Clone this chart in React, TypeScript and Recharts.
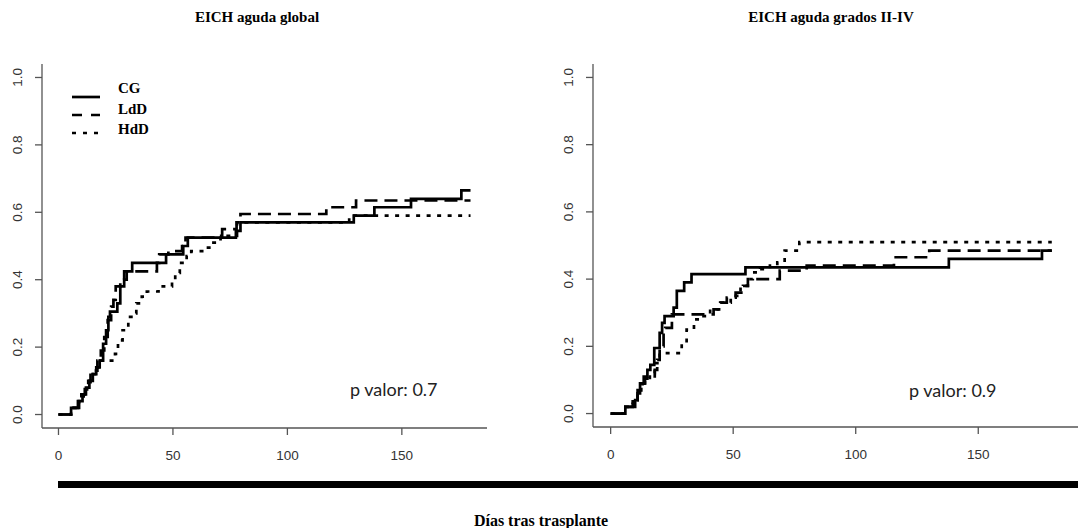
import React from "react";
import { LineChart, Line, XAxis, YAxis } from "recharts";

// ---------- Data (days after transplant, cumulative incidence) ----------
const xTicks = [0, 50, 100, 150];
const yTicks = [0, 0.2, 0.4, 0.6, 0.8, 1.0];
const seriesNames = ["CG", "LdD", "HdD"];

// Left panel: EICH aguda global
const leftCGT = [0, 5.5, 9, 10.5, 12, 13.5, 15, 16.5, 18, 19.5, 20.8, 21.8, 22.5, 25.7, 27, 28.7, 29.8, 32.2, 47, 54.5, 56.5, 77.5, 79.5, 129, 138, 154, 176, 180];
const leftCGV = [0, 0.02, 0.04, 0.06, 0.08, 0.1, 0.12, 0.14, 0.16, 0.21, 0.25, 0.29, 0.305, 0.33, 0.38, 0.4, 0.425, 0.45, 0.475, 0.5, 0.525, 0.545, 0.57, 0.59, 0.615, 0.64, 0.665, 0.665];
const leftLdDT = [0, 5.5, 8.5, 10, 11.5, 13, 14, 15.5, 17, 18.5, 20, 21.5, 23, 24, 25, 27, 28.7, 43, 44, 48, 54, 55.5, 69, 71.5, 77.8, 79.5, 117, 130, 180];
const leftLdDV = [0, 0.02, 0.04, 0.06, 0.08, 0.1, 0.125, 0.13, 0.16, 0.19, 0.23, 0.28, 0.32, 0.34, 0.38, 0.4, 0.425, 0.45, 0.475, 0.485, 0.5, 0.525, 0.53, 0.55, 0.57, 0.595, 0.615, 0.635, 0.635];
const leftHdDT = [0, 5.5, 9, 11, 12.5, 14, 16, 17.4, 24.7, 26, 28, 30.5, 32.5, 34, 36.4, 38.6, 43.7, 49.6, 51, 53, 56, 58, 63.5, 67, 70.8, 78, 127, 180];
const leftHdDV = [0, 0.02, 0.04, 0.06, 0.09, 0.12, 0.14, 0.16, 0.18, 0.22, 0.25, 0.29, 0.3, 0.33, 0.35, 0.365, 0.38, 0.4, 0.42, 0.45, 0.47, 0.485, 0.495, 0.51, 0.53, 0.57, 0.59, 0.59];

// Right panel: EICH aguda grados II-IV
const rightCGT = [0, 6, 10, 11, 12, 13.5, 15, 16.2, 17.8, 20, 21, 22, 25.7, 27, 30, 33, 55, 138, 176, 180];
const rightCGV = [0, 0.02, 0.04, 0.07, 0.09, 0.11, 0.13, 0.145, 0.195, 0.24, 0.27, 0.29, 0.315, 0.365, 0.39, 0.415, 0.435, 0.46, 0.485, 0.485];
const rightLdDT = [0, 6, 9, 11, 12, 13, 14, 18, 19, 20, 21.6, 22.3, 25, 38, 42, 44.7, 47.4, 51, 54, 56, 69, 80, 115.6, 130, 180];
const rightLdDV = [0, 0.02, 0.04, 0.06, 0.08, 0.09, 0.104, 0.13, 0.16, 0.2, 0.25, 0.255, 0.295, 0.295, 0.31, 0.33, 0.345, 0.36, 0.38, 0.4, 0.425, 0.44, 0.465, 0.485, 0.485];
const rightHdDT = [0, 6, 9, 11, 12.5, 14, 16, 18, 20, 29, 31, 34, 36.5, 40.6, 45, 49, 53, 56, 58, 61, 65, 68, 71, 77, 180];
const rightHdDV = [0, 0.02, 0.04, 0.06, 0.08, 0.1, 0.12, 0.15, 0.18, 0.21, 0.25, 0.28, 0.29, 0.31, 0.33, 0.35, 0.38, 0.4, 0.42, 0.43, 0.44, 0.45, 0.485, 0.51, 0.51];

const zip = (t: number[], v: number[]) => t.map((x, i) => ({ t: x, v: v[i] }));

const dashes = ["", "13 7", "4 6.5"];
const SW = 2.7;
const AXIS = "#555";
const TICKFONT = "'Liberation Sans', Arial, sans-serif";
const SERIF = "'Liberation Serif', 'Times New Roman', serif";

const YTick = (props: any) => {
  const { x, y, payload } = props;
  const bx = x - 11;
  return (
    <text x={bx} y={y} transform={`rotate(-90 ${bx} ${y})`} textAnchor="middle" fill="#333" fontSize={13.5} fontFamily={TICKFONT}>
      {Number(payload.value).toFixed(1)}
    </text>
  );
};

type PanelProps = {
  series: { t: number; v: number }[][];
  width: number;
  margin: { top: number; right: number; bottom: number; left: number };
  xMax: number;
};

const Panel = ({ series, width, margin, xMax }: PanelProps) => (
  <LineChart width={width} height={528} margin={margin}>
    <XAxis
      type="number"
      dataKey="t"
      domain={[-7.2, xMax]}
      ticks={xTicks}
      allowDataOverflow
      height={40}
      stroke={AXIS}
      strokeWidth={1.3}
      tickSize={7}
      tickMargin={15}
      tick={{ fill: "#333", fontSize: 13.5, fontFamily: TICKFONT }}
      tickLine={{ stroke: AXIS, strokeWidth: 1.3 }}
    />
    <YAxis
      type="number"
      dataKey="v"
      domain={[-0.04, 1.04]}
      ticks={yTicks}
      allowDataOverflow
      width={40}
      stroke={AXIS}
      strokeWidth={1.3}
      tickSize={7}
      tick={<YTick />}
      tickLine={{ stroke: AXIS, strokeWidth: 1.3 }}
    />
    {series.map((d, i) => (
      <Line
        key={seriesNames[i]}
        data={d}
        dataKey="v"
        name={seriesNames[i]}
        type="stepAfter"
        stroke="#000"
        strokeWidth={SW}
        strokeDasharray={dashes[i] || undefined}
        dot={false}
        activeDot={false}
        isAnimationActive={false}
      />
    ))}
  </LineChart>
);

export default function App() {
  const left = [zip(leftCGT, leftCGV), zip(leftLdDT, leftLdDV), zip(leftHdDT, leftHdDV)];
  const right = [zip(rightCGT, rightCGV), zip(rightLdDT, rightLdDV), zip(rightHdDT, rightHdDV)];
  const legendLineY = [97, 115, 133];
  const legendTextY = [93, 114, 134];
  return (
    <div style={{ position: "absolute", left: 0, top: 0, width: 1078, height: 528, background: "#fff", overflow: "hidden" }}>
      <div style={{ position: "absolute", left: 0, top: 0 }}>
        <Panel series={left} width={540} margin={{ top: 64, right: 53, bottom: 60, left: 2 }} xMax={187.2} />
      </div>
      <div style={{ position: "absolute", left: 540, top: 0 }}>
        <Panel series={right} width={538} margin={{ top: 64, right: 0, bottom: 61, left: 13 }} xMax={190.7} />
      </div>
      <svg width={1078} height={528} style={{ position: "absolute", left: 0, top: 0, pointerEvents: "none" }}>
        <text x={257} y={22} textAnchor="middle" fontFamily={SERIF} fontWeight="bold" fontSize={15} fill="#000">EICH aguda global</text>
        <text x={831} y={22} textAnchor="middle" fontFamily={SERIF} fontWeight="bold" fontSize={15} fill="#000">EICH aguda grados II-IV</text>
        {seriesNames.map((n, i) => (
          <g key={n}>
            <line x1={72} x2={100} y1={legendLineY[i]} y2={legendLineY[i]} stroke="#000" strokeWidth={SW} strokeDasharray={i === 1 ? "10 9" : i === 2 ? "4 7" : undefined} />
            <text x={118} y={legendTextY[i]} fontFamily={SERIF} fontWeight="bold" fontSize={15} fill="#000">{n}</text>
          </g>
        ))}
        <text x={350} y={396} fontFamily="Lato, 'Open Sans', sans-serif" fontSize={18} fill="#222">p valor: 0.7</text>
        <text x={909} y={397} fontFamily="Lato, 'Open Sans', sans-serif" fontSize={18} fill="#222">p valor: 0.9</text>
        <rect x={58} y={481} width={1020} height={7} fill="#000" />
        <text x={541} y={526} textAnchor="middle" fontFamily={SERIF} fontWeight="bold" fontSize={16} fill="#000">Días tras trasplante</text>
      </svg>
    </div>
  );
}
